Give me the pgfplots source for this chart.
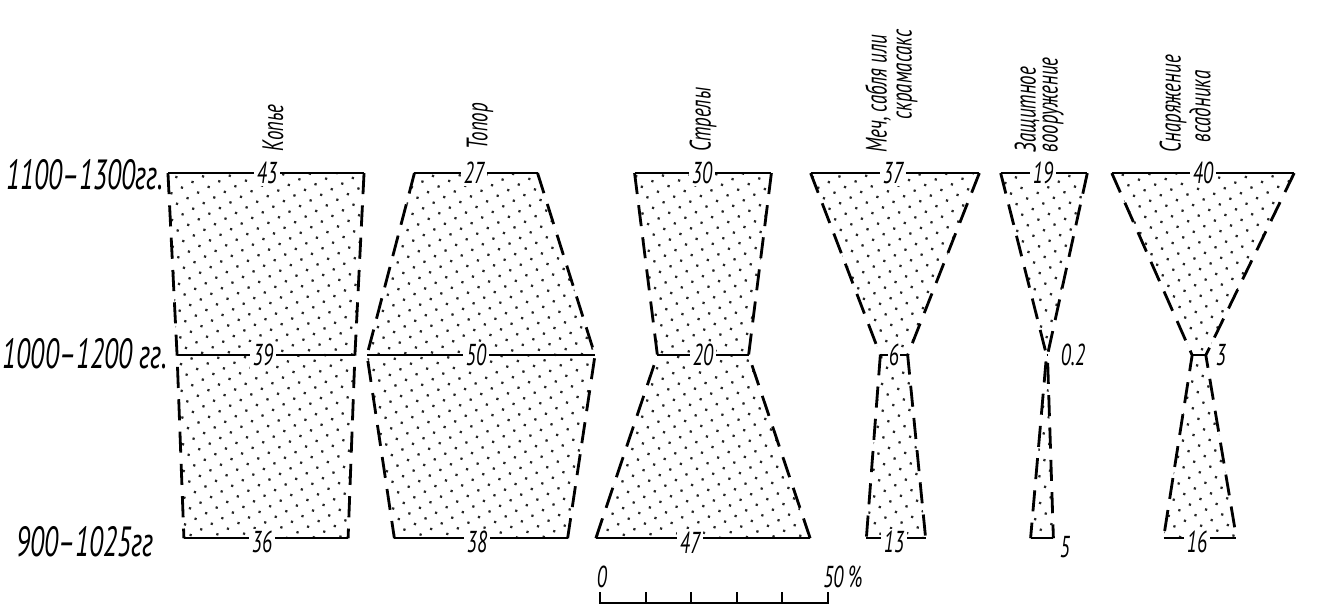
\documentclass[border=0pt]{standalone}
\usepackage{pgfplots}
\pgfplotsset{compat=1.18}
\usepackage{pgfplotstable}
\usepgfplotslibrary{fillbetween}
\usetikzlibrary{patterns.meta}
\usepackage{fontspec}
\setmainfont{PT Sans}[FakeStretch=0.78]
\newfontfamily\narrow{PT Sans}[FakeStretch=0.64]

% y = row position (900-1025 at bottom), c = centre of the column, pct = share in %
\pgfplotstableread{
y   c    pct
173 266  43
355 266  39
538 266  36
}\kopye
\pgfplotstableread{
y   c    pct
173 476  27
355 481  50
538 481  38
}\topor
\pgfplotstableread{
y   c    pct
173 703  30
355 703  20
538 703  47
}\strely
\pgfplotstableread{
y   c    pct
173 895  37
355 894  6
538 896  13
}\mech
\pgfplotstableread{
y   c    pct
173 1044 19
355 1047 0.2
538 1042 5
}\zasch
\pgfplotstableread{
y   c    pct
173 1203 40
355 1199 3
538 1200 16
}\snar

\newcommand{\halfw}{2.28}

\pgfplotsset{
  edge/.style={black, line width=0.8pt, dash pattern=on 6pt off 3.2pt, no marks},
  stip/.style={draw=none, pattern={Dots[distance=3.4pt, radius=0.45pt, angle=28]}, pattern color=black!85},
}
\tikzset{
  num/.style={font=\narrow\fontsize{8.6}{9}\selectfont\itshape, fill=white, inner sep=0.7pt},
  lab/.style={font=\narrow\fontsize{8.6}{9}\selectfont\itshape},
  row/.style={font=\narrow\fontsize{12}{14}\selectfont\itshape},
  ttl/.style={font=\narrow\fontsize{8.4}{9}\selectfont\itshape, rotate=90, anchor=west, inner sep=0pt},
}

\newcommand{\battle}[2]{%
  \addplot[edge, name path=#2L] table[x expr=\thisrow{c}-\halfw*\thisrow{pct}, y=y] {#1};
  \addplot[edge, name path=#2R] table[x expr=\thisrow{c}+\halfw*\thisrow{pct}, y=y] {#1};
  \addplot[stip] fill between[of=#2L and #2R, reverse=true];
  \addplot[black, line width=0.5pt, no marks, quiver={u=2*\halfw*\thisrow{pct}, v=0}]
    table[x expr=\thisrow{c}-\halfw*\thisrow{pct}, y=y] {#1};
}

\begin{document}
\begin{tikzpicture}
\begin{axis}[
    name=main,
    scale only axis, width=378pt, height=173.3pt,
    xmin=0, xmax=1329, ymin=0, ymax=609, y dir=reverse,
    hide axis, clip=false,
]
\battle{\kopye}{a}
\battle{\topor}{b}
\battle{\strely}{c}
\battle{\mech}{d}
\battle{\zasch}{e}
\battle{\snar}{f}

% values
\node[num] at (axis cs:267,173) {43};
\node[num] at (axis cs:474,173) {27};
\node[num] at (axis cs:702,173) {30};
\node[num] at (axis cs:893,173) {37};
\node[num] at (axis cs:1043,173) {19};
\node[num] at (axis cs:1203,173) {40};
\node[num] at (axis cs:263,355) {39};
\node[num] at (axis cs:476,355) {50};
\node[num] at (axis cs:703,355) {20};
\node[num, inner sep=0.3pt] at (axis cs:894,355) {6};
\node[lab] at (axis cs:1073,355) {0.2};
\node[lab] at (axis cs:1221,355) {3};
\node[num] at (axis cs:262,542) {36};
\node[num] at (axis cs:477,542) {38};
\node[num] at (axis cs:690,542) {47};
\node[num] at (axis cs:894,542) {13};
\node[lab] at (axis cs:1065,547) {5};
\node[num] at (axis cs:1197,542) {16};

% periods
\node[row] at (axis cs:85,175) {1100–1300гг.};
\node[row] at (axis cs:85,354) {1000–1200\,гг.};
\node[row] at (axis cs:85,541) {900–1025гг};

% column titles
\node[ttl] at (axis cs:273,152) {Копье};
\node[ttl] at (axis cs:480,150) {Топор};
\node[ttl] at (axis cs:703,152) {Стрелы};
\node[ttl] at (axis cs:878,153) {Меч, сабля или};
\node[ttl] at (axis cs:907,120) {скрамасакс};
\node[ttl] at (axis cs:1027,153) {Защитное};
\node[ttl] at (axis cs:1053,153) {вооружение};
\node[ttl] at (axis cs:1173,153) {Снаряжение};
\node[ttl] at (axis cs:1200,143) {всадника};

% scale
\node[lab] at (axis cs:602,577) {0};
\node[lab] at (axis cs:843,577) {50\,\%};
\draw[line width=0.6pt] (axis cs:600,592) -- (axis cs:600,603) -- (axis cs:828,603) -- (axis cs:828,592);
\draw[line width=0.6pt] (axis cs:645.6,592) -- (axis cs:645.6,603);
\draw[line width=0.6pt] (axis cs:691.2,592) -- (axis cs:691.2,603);
\draw[line width=0.6pt] (axis cs:736.8,592) -- (axis cs:736.8,603);
\draw[line width=0.6pt] (axis cs:782.4,592) -- (axis cs:782.4,603);
\end{axis}
\pgfresetboundingbox
\useasboundingbox (main.south west) rectangle (main.north east);
\end{tikzpicture}
\end{document}
